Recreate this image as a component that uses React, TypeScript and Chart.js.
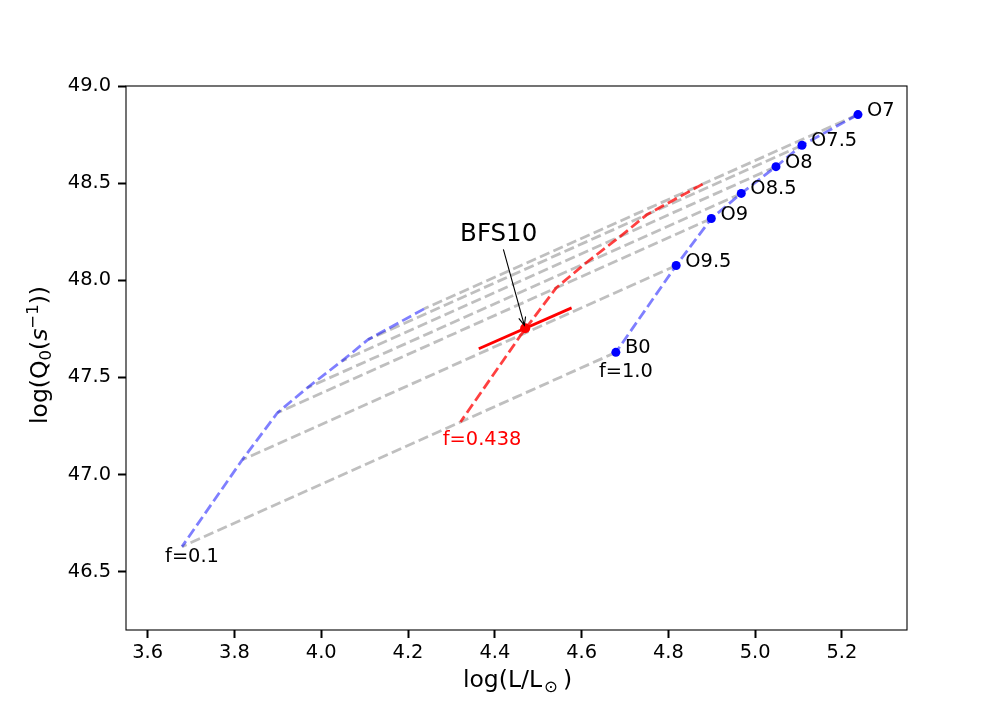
import { useEffect, useRef } from 'react';
import { Chart, registerables } from 'chart.js';

Chart.register(...registerables);

// ---------- data ----------
const spectralTypes = ['O7', 'O7.5', 'O8', 'O8.5', 'O9', 'O9.5', 'B0'];
// f = 1.0
const logL_f1 = [5.237, 5.108, 5.048, 4.968, 4.899, 4.818, 4.679];
const logQ_f1 = [48.853, 48.695, 48.585, 48.447, 48.318, 48.076, 47.629];
// f = 0.438
const logL_f0438 = [4.879, 4.750, 4.690, 4.610, 4.541, 4.460, 4.321];
const logQ_f0438 = [48.495, 48.337, 48.227, 48.089, 47.960, 47.718, 47.271];
// f = 0.1
const logL_f01 = [4.237, 4.108, 4.048, 3.968, 3.899, 3.818, 3.679];
const logQ_f01 = [47.853, 47.695, 47.585, 47.447, 47.318, 47.076, 46.629];

// BFS10 measurement
const bfsLabel = 'BFS10';
const bfsX = 4.470;
const bfsY = 47.753;
const bfsErrX = [4.363, 4.577];
const bfsErrY = [47.648, 47.858];
const bfsTextPos = [4.32, 48.2];

// free text labels
const fLabelText = ['f=0.1', 'f=1.0', 'f=0.438'];
const fLabelX = [3.64, 4.64, 4.28];
const fLabelY = [46.55, 47.5, 47.15];
const fLabelColor = ['#000000', '#000000', '#ff0000'];

const xTicks = [3.6, 3.8, 4.0, 4.2, 4.4, 4.6, 4.8, 5.0, 5.2];
const yTicks = [46.5, 47.0, 47.5, 48.0, 48.5, 49.0];
const xRange = [3.55, 5.35];
const yRange = [46.2, 49.0];

// ---------- styling ----------
const FONT = '"DejaVu Sans", "Liberation Sans", sans-serif';
const DASH = [10.3, 4.4];
const LW = 2.78;
const TITLE = 23.5;
const SUB = 16.5;

type Part = { t: string; size: number; dy?: number; italic?: boolean; gapL?: number; gapR?: number };

function drawRich(ctx: CanvasRenderingContext2D, parts: Part[], x: number, y: number, align: 'left' | 'center') {
  let total = 0;
  const widths: number[] = [];
  for (const p of parts) {
    ctx.font = `${p.italic ? 'italic ' : ''}${p.size}px ${FONT}`;
    const w = ctx.measureText(p.t).width + (p.gapL || 0) + (p.gapR || 0);
    widths.push(w);
    total += w;
  }
  let cx = align === 'center' ? x - total / 2 : x;
  ctx.textAlign = 'left';
  ctx.textBaseline = 'alphabetic';
  parts.forEach((p, i) => {
    ctx.font = `${p.italic ? 'italic ' : ''}${p.size}px ${FONT}`;
    ctx.fillText(p.t, cx + (p.gapL || 0), y + (p.dy || 0));
    cx += widths[i];
  });
}

const overlayPlugin = {
  id: 'overlay',
  afterDraw(chart: any) {
    const ctx: CanvasRenderingContext2D = chart.ctx;
    const xs = chart.scales.x;
    const ys = chart.scales.y;
    const area = chart.chartArea;
    const px = (v: number) => xs.getPixelForValue(v);
    const py = (v: number) => ys.getPixelForValue(v);

    ctx.save();
    // frame
    ctx.strokeStyle = '#000';
    ctx.lineWidth = 1.1;
    ctx.strokeRect(area.left, area.top, area.right - area.left, area.bottom - area.top);

    // spectral type labels
    ctx.fillStyle = '#000';
    ctx.font = `19.4px ${FONT}`;
    ctx.textAlign = 'left';
    ctx.textBaseline = 'alphabetic';
    spectralTypes.forEach((s, i) => {
      ctx.fillText(s, px(logL_f1[i] + 0.021), py(logQ_f1[i]) + 1);
    });

    // f labels
    fLabelText.forEach((s, i) => {
      ctx.fillStyle = fLabelColor[i];
      ctx.fillText(s, px(fLabelX[i]), py(fLabelY[i]));
    });

    // BFS10 annotation
    ctx.fillStyle = '#000';
    ctx.font = `24.5px ${FONT}`;
    const tx = px(bfsTextPos[0]);
    const ty = py(bfsTextPos[1]);
    ctx.fillText(bfsLabel, tx, ty);
    const tw = ctx.measureText(bfsLabel).width;
    const cx = tx + tw / 2;
    const cy = ty - 9;
    const ex0 = px(bfsX);
    const ey0 = py(bfsY);
    const dx = ex0 - cx;
    const dy = ey0 - cy;
    const len = Math.hypot(dx, dy);
    const ux = dx / len;
    const uy = dy / len;
    const ex = ex0 - ux * 3;
    const ey = ey0 - uy * 3;
    const tStart = (ty + 8 - cy) / uy;
    const sx = cx + ux * tStart;
    const sy = cy + uy * tStart;
    ctx.strokeStyle = '#000';
    ctx.lineWidth = 1.1;
    ctx.beginPath();
    ctx.moveTo(sx, sy);
    ctx.lineTo(ex, ey);
    const ang = Math.atan2(uy, ux);
    const hl = 9;
    const ha = 0.4;
    ctx.moveTo(ex - hl * Math.cos(ang - ha), ey - hl * Math.sin(ang - ha));
    ctx.lineTo(ex, ey);
    ctx.lineTo(ex - hl * Math.cos(ang + ha), ey - hl * Math.sin(ang + ha));
    ctx.stroke();

    // axis titles
    ctx.fillStyle = '#000';
    const midX = (area.left + area.right) / 2;
    drawRich(
      ctx,
      [
        { t: 'log(L/L', size: TITLE },
        { t: '\u2299', size: SUB, dy: 5, gapL: 2, gapR: 5 },
        { t: ')', size: TITLE },
      ],
      midX + 1,
      687,
      'center'
    );
    const midY = (area.top + area.bottom) / 2;
    ctx.save();
    ctx.translate(47, midY - 3);
    ctx.rotate(-Math.PI / 2);
    drawRich(
      ctx,
      [
        { t: 'log(Q', size: TITLE },
        { t: '0', size: SUB, dy: 3.5 },
        { t: '(', size: TITLE },
        { t: 's', size: TITLE, italic: true },
        { t: '\u22121', size: SUB, dy: -9.5 },
        { t: '))', size: TITLE },
      ],
      0,
      0,
      'center'
    );
    ctx.restore();
    ctx.restore();
  },
};

export default function App() {
  const ref = useRef<HTMLCanvasElement | null>(null);

  useEffect(() => {
    if (!ref.current) return;
    const toPts = (xa: number[], ya: number[]) => xa.map((x, i) => ({ x, y: ya[i] }));

    const grayLines = spectralTypes.map((s, i) => ({
      label: 'link ' + s,
      data: [
        { x: logL_f1[i], y: logQ_f1[i] },
        { x: logL_f01[i], y: logQ_f01[i] },
      ],
      showLine: true,
      borderColor: 'rgba(128,128,128,0.5)',
      borderWidth: LW,
      borderDash: DASH,
      pointRadius: 0,
      order: 5,
    }));

    const chart = new Chart(ref.current, {
      type: 'scatter',
      data: {
        datasets: [
          {
            label: 'types',
            data: toPts(logL_f1, logQ_f1),
            pointRadius: 4.5,
            pointBackgroundColor: '#0000ff',
            pointBorderWidth: 0,
            showLine: false,
            order: 0,
          },
          {
            label: bfsLabel,
            data: [{ x: bfsX, y: bfsY }],
            pointRadius: 5,
            pointBackgroundColor: '#ff0000',
            pointBorderWidth: 0,
            showLine: false,
            order: 0,
          },
          {
            label: 'err',
            data: toPts(bfsErrX, bfsErrY),
            showLine: true,
            borderColor: '#ff0000',
            borderWidth: LW,
            pointRadius: 0,
            order: 1,
          },
          {
            label: 'f=0.438',
            data: toPts(logL_f0438, logQ_f0438),
            showLine: true,
            borderColor: 'rgba(255,0,0,0.75)',
            borderWidth: LW,
            borderDash: DASH,
            pointRadius: 0,
            order: 2,
          },
          {
            label: 'f=1.0',
            data: toPts(logL_f1, logQ_f1),
            showLine: true,
            borderColor: 'rgba(0,0,255,0.5)',
            borderWidth: LW,
            borderDash: DASH,
            pointRadius: 0,
            order: 3,
          },
          {
            label: 'f=0.1',
            data: toPts(logL_f01, logQ_f01),
            showLine: true,
            borderColor: 'rgba(0,0,255,0.5)',
            borderWidth: LW,
            borderDash: DASH,
            pointRadius: 0,
            order: 3,
          },
          ...grayLines,
        ] as any,
      },
      options: {
        animation: false,
        responsive: false,
        devicePixelRatio: 1,
        layout: { padding: { left: 0, right: 101, top: 86, bottom: 0 } },
        plugins: { legend: { display: false }, tooltip: { enabled: false } },
        elements: { line: { tension: 0, borderCapStyle: 'butt', borderJoinStyle: 'round' } },
        scales: {
          x: {
            type: 'linear',
            min: xRange[0],
            max: xRange[1],
            afterFit: (s: any) => {
              s.height = 90;
            },
            afterBuildTicks: (s: any) => {
              s.ticks = xTicks.map((v) => ({ value: v }));
            },
            grid: { display: true, drawOnChartArea: false, drawTicks: true, tickLength: 8, tickWidth: 2, tickColor: '#000' },
            border: { display: false },
            ticks: {
              color: '#000',
              padding: 3,
              maxRotation: 0,
              autoSkip: false,
              font: { family: FONT, size: 19.4 },
              callback: (v: any) => Number(v).toFixed(1),
            },
          },
          y: {
            type: 'linear',
            min: yRange[0],
            max: yRange[1],
            afterFit: (s: any) => {
              s.width = 126;
            },
            afterBuildTicks: (s: any) => {
              s.ticks = yTicks.map((v) => ({ value: v }));
            },
            grid: { display: true, drawOnChartArea: false, drawTicks: true, tickLength: 8, tickWidth: 2, tickColor: '#000' },
            border: { display: false },
            ticks: {
              color: '#000',
              padding: 7,
              autoSkip: false,
              font: { family: FONT, size: 19.4 },
              callback: (v: any) => Number(v).toFixed(1),
            },
          },
        },
      } as any,
      plugins: [overlayPlugin],
    });
    return () => chart.destroy();
  }, []);

  return (
    <div style={{ position: 'absolute', left: 0, top: 0, width: 1008, height: 720, background: '#fff' }}>
      <canvas ref={ref} width={1008} height={720} style={{ display: 'block', width: 1008, height: 720 }} />
    </div>
  );
}
